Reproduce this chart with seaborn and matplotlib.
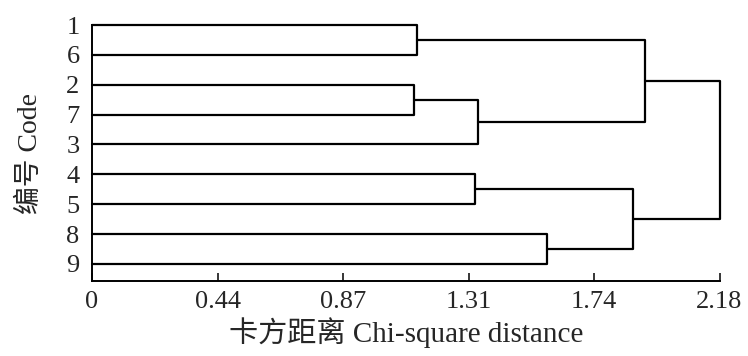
import numpy as np
import pandas as pd
import matplotlib
matplotlib.use("Agg")
import matplotlib.pyplot as plt
import seaborn as sns

# ---- data ----
leaf_codes = ['1', '6', '2', '7', '3', '4', '5', '8', '9']   # top-to-bottom order
# merges: cluster ids 0..8 are leaves (in order above); new clusters numbered 9, 10, ...
merge_a = [0, 2, 10, 9, 5, 7, 13, 12]
merge_b = [1, 3, 4, 11, 6, 8, 14, 15]
merge_height = [1.13, 1.12, 1.34, 1.92, 1.33, 1.58, 1.88, 2.18]
x_ticks = [0, 0.436, 0.872, 1.308, 1.744, 2.18]
x_tick_labels = ['0', '0.44', '0.87', '1.31', '1.74', '2.18']

sns.set_style("ticks")
plt.rcParams['font.family'] = ['Liberation Serif', 'Noto Sans CJK SC']

# ---- build link segments ----
pos_y = {i: float(i) for i in range(len(leaf_codes))}
pos_x = {i: 0.0 for i in range(len(leaf_codes))}
rows = []
nid = len(leaf_codes)
for k, (a, b, h) in enumerate(zip(merge_a, merge_b, merge_height)):
    pts = [(pos_x[a], pos_y[a]), (h, pos_y[a]), (h, pos_y[b]), (pos_x[b], pos_y[b])]
    for j, (px, py) in enumerate(pts):
        rows.append({'x': px, 'y': py, 'link': k, 'order': j})
    pos_x[nid] = h
    pos_y[nid] = (pos_y[a] + pos_y[b]) / 2
    nid += 1
df = pd.DataFrame(rows)

fig = plt.figure(figsize=(7.48, 3.56), dpi=100)
ax = fig.add_axes([92 / 748, 1 - 281 / 356, (719.5 - 92) / 748, (281 - 25) / 356])

sns.lineplot(data=df, x='x', y='y', units='link', estimator=None, sort=False,
             color='black', linewidth=1.6, ax=ax, legend=False)
for ln in ax.get_lines():
    ln.set_clip_on(False)

ax.set_xlim(0, 2.18)
ax.set_ylim(8.57, 0)
ax.set_xticks(x_ticks)
ax.set_xticklabels(x_tick_labels, fontsize=19)
ax.set_yticks(range(len(leaf_codes)))
ax.set_yticklabels(leaf_codes, fontsize=19)
ax.tick_params(axis='x', direction='in', length=6, width=1.3, pad=7)
ax.tick_params(axis='y', length=0, pad=9)
for s in ['top', 'right']:
    ax.spines[s].set_visible(False)
for s in ['left', 'bottom']:
    ax.spines[s].set_linewidth(1.4)
    ax.spines[s].set_color('black')

ax.set_xlabel('卡方距离 Chi-square distance', fontsize=21, labelpad=3)
ax.set_ylabel('编号 Code', fontsize=20, labelpad=17)

fig.savefig('out.png', dpi=100, facecolor='white')
